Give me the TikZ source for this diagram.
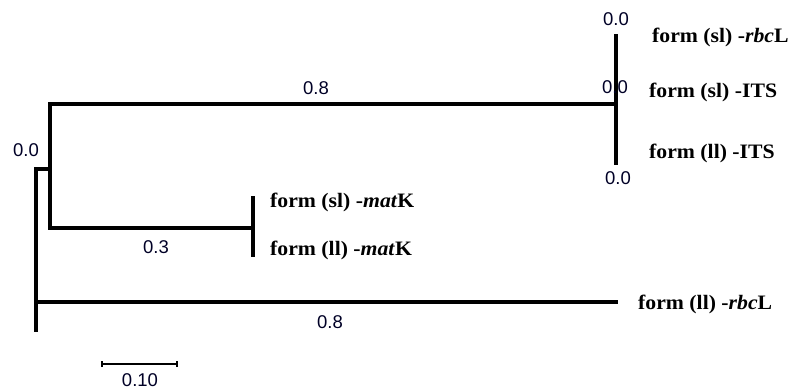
\documentclass[tikz,border=0pt]{standalone}
\usepackage{fontspec}
\setmainfont{Liberation Serif}
\newfontfamily\numfont{Liberation Sans}
\newfontfamily\labfont[FakeStretch=1.06]{Liberation Serif}
\begin{document}
\begin{tikzpicture}[x=1pt,y=-1pt,
  branch/.style={line width=3.6pt, line cap=rect},
  tiplabel/.style={anchor=base west, inner sep=0pt, font=\labfont\fontsize{20.5}{22}\selectfont\bfseries},
  numlabel/.style={anchor=center, inner sep=0pt, font=\fontsize{18.5}{20}\selectfont\numfont, text=black!85!blue},
  scalebar/.style={line width=1.3pt}]
\useasboundingbox (0,0) rectangle (788,389);
% internal nodes
\coordinate (root) at (36,169);
\coordinate (rootbot) at (36,330);
\coordinate (n1) at (50,169);
\coordinate (n1top) at (50,104);
\coordinate (n1bot) at (50,228);
\coordinate (its) at (616,104);
\coordinate (itstop) at (616,36);
\coordinate (itsbot) at (616,163);
\coordinate (mat) at (253,228);
\coordinate (mattop) at (253,198);
\coordinate (matbot) at (253,255);
\coordinate (rootleaf) at (36,302);
\coordinate (rbcll) at (616,302);
% branches
\draw[branch] (root) -- (rootbot);
\draw[branch] (root) -- (n1);
\draw[branch] (n1top) -- (n1bot);
\draw[branch] (n1top) -- (its);
\draw[branch] (itstop) -- (itsbot);
\draw[branch] (n1bot) -- (mat);
\draw[branch] (mattop) -- (matbot);
\draw[branch] (rootleaf) -- (rbcll);
% tip labels
\node[tiplabel] (t1) at (652,42) {form (sl) -\textit{rbc}L};
\node[tiplabel] (t2) at (649,97) {form (sl) -ITS};
\node[tiplabel] (t3) at (649,158) {form (ll) -ITS};
\node[tiplabel] (t4) at (270,207) {form (sl) -\textit{mat}K};
\node[tiplabel] (t5) at (270,255) {form (ll) -\textit{mat}K};
\node[tiplabel] (t6) at (638,309) {form (ll) -\textit{rbc}L};
% branch lengths
\node[numlabel] (b1) at (616,19) {0.0};
\node[numlabel] (b2) at (615,87) {0.0};
\node[numlabel] (b3) at (618,178) {0.0};
\node[numlabel] (b4) at (26,150) {0.0};
\node[numlabel] (b5) at (316,88) {0.8};
\node[numlabel] (b6) at (156,247) {0.3};
\node[numlabel] (b7) at (330,322) {0.8};
% scale bar
\coordinate (sa) at (102,364);
\coordinate (sb) at (177,364);
\draw[scalebar] (sa) -- (sb);
\draw[scalebar] ([yshift=-3]sa) -- ([yshift=3]sa);
\draw[scalebar] ([yshift=-3]sb) -- ([yshift=3]sb);
\node[numlabel] (sl) at (140,380) {0.10};
\end{tikzpicture}
\end{document}
